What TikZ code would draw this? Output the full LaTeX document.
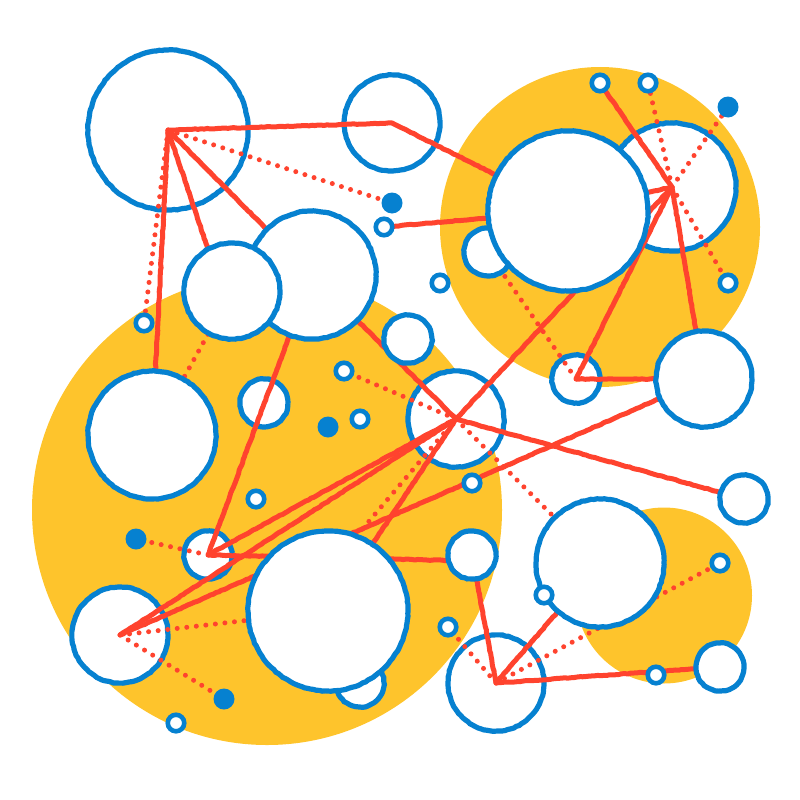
\documentclass[tikz,border=0pt]{standalone}
\usetikzlibrary{decorations.pathmorphing}
\pgfdeclarelayer{front}
\pgfsetlayers{main,front}
\definecolor{fieldyellow}{HTML}{FEC42C}
\definecolor{rimblue}{HTML}{0681D0}
\definecolor{linkred}{HTML}{FF432E}
\tikzset{
    rough/.style={decorate,decoration={random steps,segment length=3pt,amplitude=.35pt}},
    field/.style={circle,fill=fieldyellow,inner sep=0pt,outer sep=0pt,minimum size=#1},
    disc/.style={circle,draw=rimblue,fill=white,line width=5.2pt,inner sep=0pt,outer sep=0pt,minimum size=#1,rough},
    ring/.style={circle,draw=rimblue,fill=white,line width=4.6pt,inner sep=0pt,outer sep=0pt,minimum size=16.5pt},
    spot/.style={circle,fill=rimblue,inner sep=0pt,outer sep=0pt,minimum size=21pt},
    link/.style={linkred,line width=5pt,line join=round,rough},
    dotlink/.style={linkred,line width=5pt,line cap=round,dash pattern=on 0pt off 9.6pt}
}
\begin{document}
\begin{tikzpicture}[x=1pt,y=-1pt]
    \useasboundingbox (0,0) rectangle (800,800);
    \node[field=470pt] (fieldA) at (267,510) {};
    \node[field=320pt] (fieldB) at (600,227) {};
    \node[field=176pt] (fieldC) at (664,595.5) {};
    % circles the links run over
    \node[disc=160pt] (hubA) at (168,130) {};
    \node[disc=96pt] (hubH) at (392,123) {};
    \node[disc=128pt] (hubB) at (672,187) {};
    \node[disc=48pt] (hubC) at (576,379) {};
    \node[disc=96pt] (hubD) at (456,419) {};
    \node[disc=48pt] (hubE) at (208,555) {};
    \node[disc=96pt] (hubF) at (120,635) {};
    \node[disc=96pt] (hubG) at (496,683) {};
    \node[disc=48pt] (smallA) at (264,403) {};
    % circles that cover the links
    \begin{pgfonlayer}{front}
        \node[disc=48pt] (smallB) at (488,252) {};
        \node[disc=160pt] (bigA) at (568,211) {};
        \node[disc=96pt] (midA) at (704,379) {};
        \node[disc=128pt] (bigB) at (312,275) {};
        \node[disc=96pt] (midB) at (232,291) {};
        \node[disc=48pt] (smallC) at (408,339) {};
        \node[disc=128pt] (bigC) at (152,435) {};
        \node[disc=48pt] (smallD) at (360,683) {};
        \node[disc=160pt] (bigD) at (328,611) {};
        \node[disc=48pt] (smallE) at (472,555) {};
        \node[disc=128pt] (bigE) at (600,563) {};
        \node[disc=48pt] (smallF) at (744,499) {};
        \node[disc=48pt] (smallG) at (720,667) {};
        \foreach \n/\x/\y in {a/600/83,b/648/83,c/728/283,d/440/283,e/384/227,f/144/323,g/344/371,h/360/419,
            i/256/499,j/176/723,k/472/483,l/544/595,m/448/627,n/720/563,o/656/675}
            \node[ring] (ring\n) at (\x,\y) {};
        \foreach \n/\x/\y in {a/728/107,b/392/203,c/328/427,d/136/539,e/224/699}
            \node[spot] (spot\n) at (\x,\y) {};
    \end{pgfonlayer}
    % free ends hidden under the circles
    \coordinate (midBend) at (222,291);
    \coordinate (bigDend) at (336,560);
    \coordinate (smallEend) at (472,561);
    % solid links
    \draw[link] (hubA.center) -- (hubH.center) -- (bigA.center);
    \draw[link] (hubA.center) -- (bigB.center);
    \draw[link] (hubA.center) -- (midBend);
    \draw[link] (hubA.center) -- (bigC.center);
    \draw[link] (ringe.center) -- (bigA.center);
    \draw[link] (hubB.center) -- (ringa.center);
    \draw[link] (hubB.center) -- (midA.center);
    \draw[link] (hubB.center) -- (hubC.center);
    \draw[link] (hubB.center) -- (bigA.center);
    \draw[link] (hubC.center) -- (midA.center);
    \draw[link] (hubD.center) -- (hubB.center);
    \draw[link] (hubD.center) -- (smallF.center);
    \draw[link] (hubD.center) -- (bigB.center);
    \draw[link] (hubD.center) -- (hubE.center);
    \draw[link] (hubD.center) -- (hubF.center);
    \draw[link] (hubD.center) -- (bigD.center);
    \draw[link] (hubE.center) -- (bigB.center);
    \draw[link] (hubE.center) -- (smallEend);
    \draw[link] (hubF.center) -- (midA.center);
    \draw[link] (hubG.center) -- (smallE.center);
    \draw[link] (hubG.center) -- (bigE.center);
    \draw[link] (hubG.center) -- (smallG.center);
    % dotted links
    \draw[dotlink] (hubA.center) -- (spotb.center);
    \draw[dotlink] (hubA.center) -- (ringf.center);
    \draw[dotlink] (bigC.center) -- (midB.center);
    \draw[dotlink] (hubB.center) -- (ringb.center);
    \draw[dotlink] (hubB.center) -- (spota.center);
    \draw[dotlink] (hubB.center) -- (ringc.center);
    \draw[dotlink] (hubC.center) -- (smallB.center);
    \draw[dotlink] (hubD.center) -- (ringg.center);
    \draw[dotlink] (hubD.center) -- (bigE.center);
    \draw[dotlink] (hubD.center) -- (bigDend);
    \draw[dotlink] (hubE.center) -- (spotd.center);
    \draw[dotlink] (hubF.center) -- (bigD.center);
    \draw[dotlink] (hubF.center) -- (spote.center);
    \draw[dotlink] (hubG.center) -- (ringn.center);
    \draw[dotlink] (hubG.center) -- (ringm.center);
\end{tikzpicture}
\end{document}
